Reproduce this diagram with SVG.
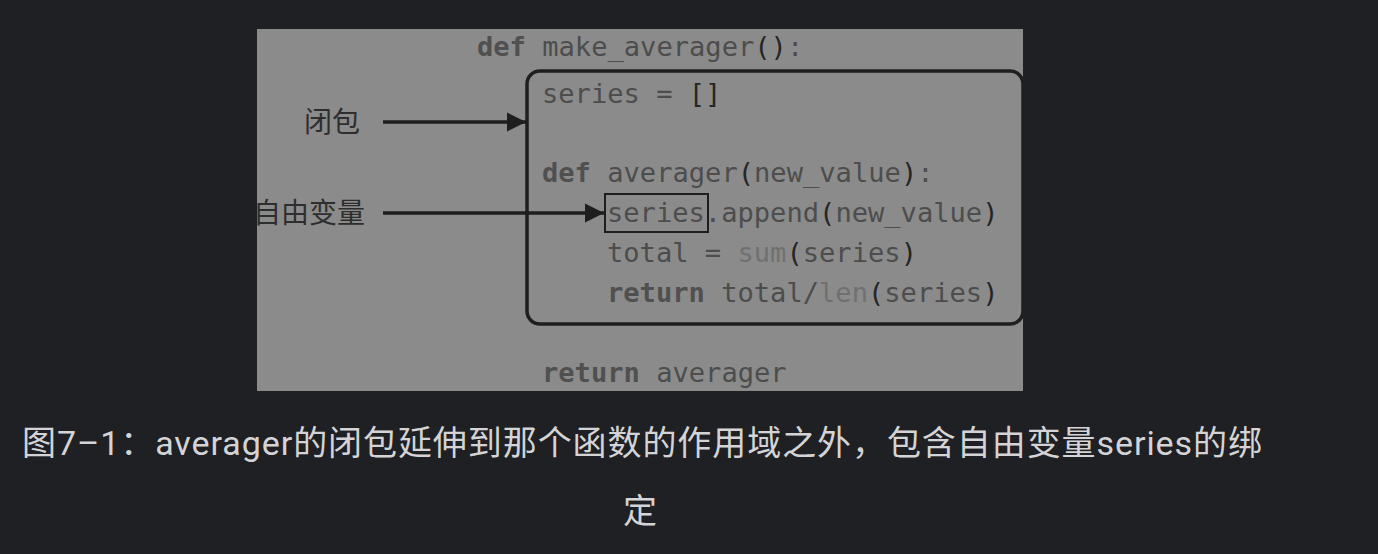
<svg xmlns="http://www.w3.org/2000/svg" width="1378" height="554" viewBox="0 0 1378 554">
<style>
.code{font-family:"DejaVu Sans Mono","Liberation Mono",monospace;font-size:27.1px;fill:#4d4d4d}
.kw{font-weight:bold;fill:#505050}
.p{fill:#262626}
.lt{fill:#707070}
.lbl{font-family:"Noto Sans CJK SC",sans-serif;font-size:28px;fill:#2e2e2e}
.cap{font-family:Roboto,"Noto Sans CJK SC",sans-serif;font-size:34px;fill:#d4d4d6}
.ln{stroke:#1e1e1e;stroke-width:3.5;fill:none}
</style>
<defs>
<clipPath id="panelClip"><rect x="257" y="29" width="766" height="362"/></clipPath>
<marker id="ah" viewBox="0 0 10 10" refX="10" refY="5" markerWidth="5.5" markerHeight="5.5" markerUnits="strokeWidth" orient="auto"><path d="M0,0 L10,5 L0,10 Z" fill="#1e1e1e"/></marker>
</defs>
<rect width="1378" height="554" fill="#1f2023"/>
<g clip-path="url(#panelClip)">
<rect x="257" y="29" width="766" height="362" fill="#8b8b8b"/>
<g id="closure-box">
<rect x="527" y="71" width="496" height="253" rx="13" class="ln"/>
</g>
<g id="code">
<text class="code" x="477" y="56"><tspan class="kw">def</tspan> make_averager<tspan class="p">()</tspan>:</text>
<text class="code" x="542" y="103">series = <tspan class="p">[]</tspan></text>
<text class="code" x="542" y="182"><tspan class="kw">def</tspan> averager<tspan class="p">(</tspan>new_value<tspan class="p">)</tspan>:</text>
<text class="code" x="607" y="222">series.append<tspan class="p">(</tspan>new_value<tspan class="p">)</tspan></text>
<text class="code" x="607" y="262">total = <tspan class="lt">sum</tspan><tspan class="p">(</tspan>series<tspan class="p">)</tspan></text>
<text class="code" x="607" y="302"><tspan class="kw">return</tspan> total/<tspan class="lt">len</tspan><tspan class="p">(</tspan>series<tspan class="p">)</tspan></text>
<text class="code" x="542" y="382"><tspan class="kw">return</tspan> averager</text>
</g>
<g id="free-var-box">
<rect x="605" y="194" width="103" height="38" fill="none" stroke="#1e1e1e" stroke-width="2"/>
</g>
<g id="label-closure">
<text class="lbl" x="304" y="132">闭包</text>
</g>
<g id="label-freevar">
<text class="lbl" x="253" y="223">自由变量</text>
</g>
<g id="connectors">
<line x1="383" y1="122" x2="526" y2="122" class="ln" marker-end="url(#ah)"/>
<line x1="383" y1="213" x2="604" y2="213" class="ln" marker-end="url(#ah)"/>
</g>
</g>
<g id="caption">
<text class="cap" x="22" y="455" textLength="1240" lengthAdjust="spacing">图7–1：averager的闭包延伸到那个函数的作用域之外，包含自由变量series的绑</text>
<text class="cap" x="640" y="523" text-anchor="middle">定</text>
</g>
</svg>
